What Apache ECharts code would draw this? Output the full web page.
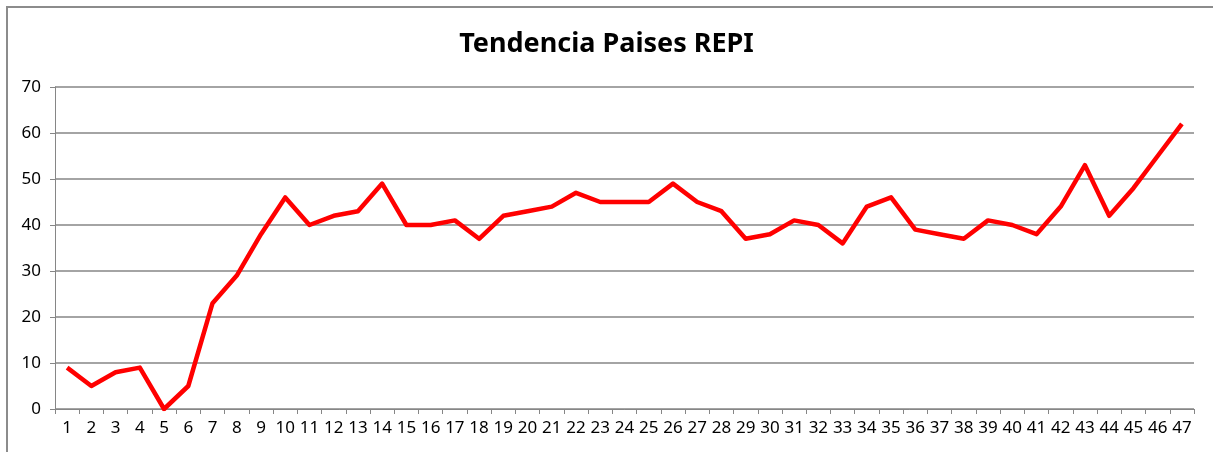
<!DOCTYPE html>
<html>
<head>
<meta charset="utf-8">
<script src="https://cdn.jsdelivr.net/npm/echarts@6/dist/echarts.min.js"></script>
<style>html,body{margin:0;padding:0;background:#fff;}#c{width:1213px;height:452px;}</style>
</head>
<body>
<div id="c"></div>
<script>
const titleText = 'Tendencia Paises REPI';
const categories = ['1','2','3','4','5','6','7','8','9','10','11','12','13','14','15','16','17','18','19','20','21','22','23','24','25','26','27','28','29','30','31','32','33','34','35','36','37','38','39','40','41','42','43','44','45','46','47'];
const values = [9,5,8,9,0,5,23,29,38,46,40,42,43,49,40,40,41,37,42,43,44,47,45,45,45,49,45,43,37,38,41,40,36,44,46,39,38,37,41,40,38,44,53,42,48,55,62];
const yTicks = [0,10,20,30,40,50,60,70];

const chart = echarts.init(document.getElementById('c'), null, {renderer:'canvas'});
const font = 'Noto Sans';
chart.setOption({
  animation: false,
  backgroundColor: '#fff',
  title: {
    text: titleText, left: 'center', top: 26,
    textStyle: {fontFamily: 'Noto Sans', fontWeight: 'bold', fontSize: 27, color: '#000'}
  },
  graphic: [{
    type: 'rect', shape: {x: 7, y: 7, width: 1260, height: 500},
    style: {fill: 'none', stroke: '#8c8c8c', lineWidth: 2}, silent: true
  }],
  grid: {left: 55, right: 19, top: 87, bottom: 43, containLabel: false},
  xAxis: {
    type: 'category', data: categories, boundaryGap: true,
    axisLine: {lineStyle: {color: '#868686', width: 1}},
    axisTick: {show: true, length: 5, inside: false, lineStyle: {color: '#868686'}},
    axisLabel: {color: '#000', fontFamily: font, fontSize: 17, margin: 11, interval: 0, hideOverlap: false},
    splitLine: {show: false}
  },
  yAxis: {
    type: 'value', min: yTicks[0], max: yTicks[yTicks.length-1], interval: 10,
    axisLine: {show: true, lineStyle: {color: '#868686', width: 1}},
    axisTick: {show: true, length: 5, lineStyle: {color: '#868686'}},
    axisLabel: {color: '#000', fontFamily: font, fontSize: 17, margin: 14},
    splitLine: {show: true, lineStyle: {color: '#868686', width: 1.5}}
  },
  series: [{
    type: 'line', data: values, symbol: 'none',
    lineStyle: {color: '#ff0000', width: 4.5, join: 'round'},
    itemStyle: {color: '#ff0000'}
  }]
});
</script>
</body>
</html>
